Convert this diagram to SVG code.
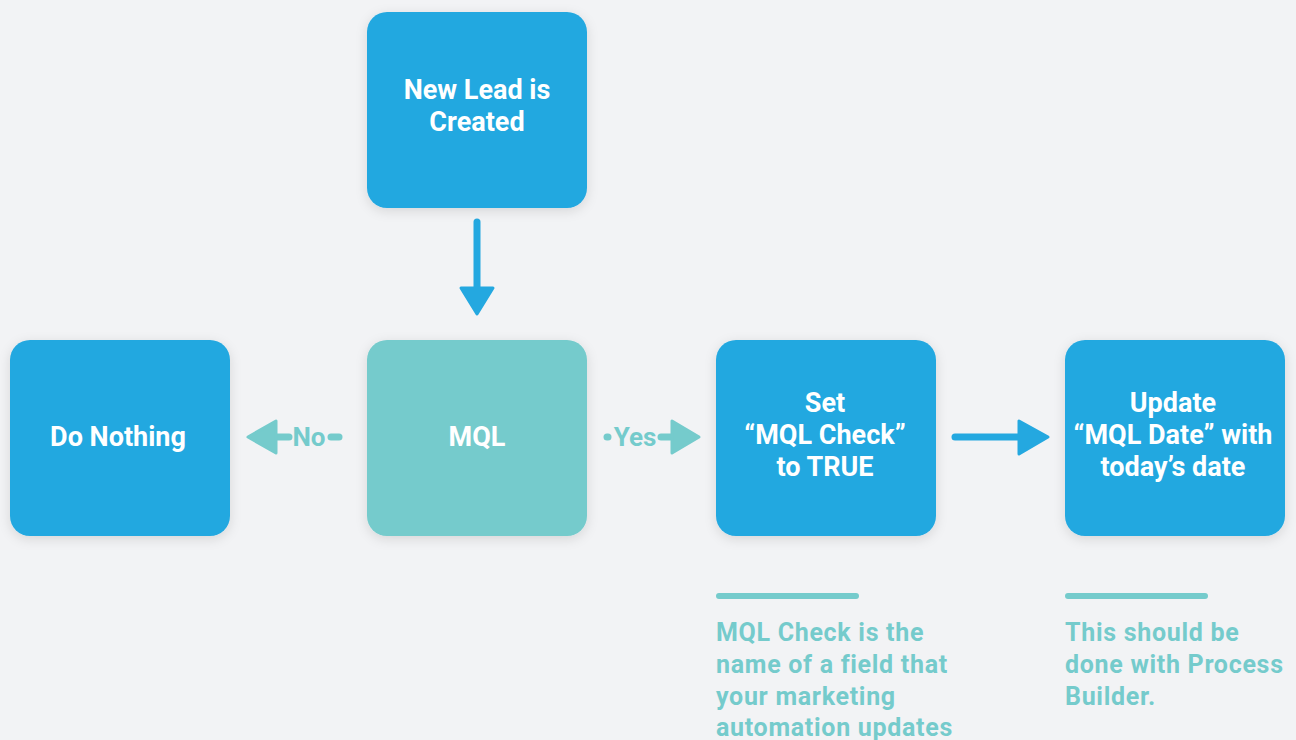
<svg xmlns="http://www.w3.org/2000/svg" width="1296" height="740" viewBox="0 0 1296 740">
<defs>
<filter id="sh" x="-20%" y="-20%" width="140%" height="140%">
<feDropShadow dx="0" dy="3" stdDeviation="6" flood-color="#000" flood-opacity="0.12"/>
</filter>
<style>
.blue{fill:#24A8E0}
.teal{fill:#75CBCC}
.bt{font-family:Roboto,"Liberation Sans",sans-serif;font-weight:bold;font-size:27px;fill:#fff;text-anchor:middle}
.note{font-family:Roboto,"Liberation Sans",sans-serif;font-weight:bold;font-size:25px;letter-spacing:0.7px;fill:#75CBCC}
.lbl{font-family:Roboto,"Liberation Sans",sans-serif;font-weight:bold;font-size:26px;fill:#75CBCC;text-anchor:middle}
.bl{stroke:#24A8E0;stroke-width:7;stroke-linecap:round;fill:none}
.tl{stroke:#75CBCC;stroke-width:7;stroke-linecap:round;fill:none}
.sep{stroke:#75CBCC;stroke-width:6;stroke-linecap:round}
</style>
</defs>
<rect width="1296" height="740" fill="#F2F3F5"/>
<g id="connectors">
<line class="bl" x1="477" y1="222" x2="477" y2="290"/>
<path class="blue" d="M461,288 L493,288 L477,314 Z" stroke="#24A8E0" stroke-width="3" stroke-linejoin="round"/>
<line class="tl" x1="276" y1="437" x2="289" y2="437"/>
<path class="teal" d="M276,421 L276,453 L248,437 Z" stroke="#75CBCC" stroke-width="3" stroke-linejoin="round"/>
<text class="lbl" x="309" y="446">No</text>
<line class="tl" x1="331" y1="437" x2="339" y2="437"/>
<line class="tl" x1="607" y1="437" x2="608" y2="437"/>
<text class="lbl" x="635" y="446">Yes</text>
<line class="tl" x1="661" y1="437" x2="673" y2="437"/>
<path class="teal" d="M672,421 L672,453 L699,437 Z" stroke="#75CBCC" stroke-width="3" stroke-linejoin="round"/>
<line class="bl" x1="955" y1="437" x2="1020" y2="437"/>
<path class="blue" d="M1019,421 L1019,454 L1048,437 Z" stroke="#24A8E0" stroke-width="3" stroke-linejoin="round"/>
</g>
<g id="new-lead">
<rect class="blue" x="367" y="12" width="220" height="196" rx="20" filter="url(#sh)"/>
<text class="bt" x="477" y="99">New Lead is</text>
<text class="bt" x="477" y="131">Created</text>
</g>
<g id="mql">
<rect class="teal" x="367" y="340" width="220" height="196" rx="20" filter="url(#sh)"/>
<text class="bt" x="477" y="446">MQL</text>
</g>
<g id="do-nothing">
<rect class="blue" x="10" y="340" width="220" height="196" rx="20" filter="url(#sh)"/>
<text class="bt" x="118" y="446">Do Nothing</text>
</g>
<g id="set-check">
<rect class="blue" x="716" y="340" width="220" height="196" rx="20" filter="url(#sh)"/>
<text class="bt" x="825" y="412">Set</text>
<text class="bt" x="825" y="444">“MQL Check”</text>
<text class="bt" x="825" y="476">to TRUE</text>
</g>
<g id="update-date">
<rect class="blue" x="1065" y="340" width="220" height="196" rx="20" filter="url(#sh)"/>
<text class="bt" x="1173" y="412">Update</text>
<text class="bt" x="1173" y="444">“MQL Date” with</text>
<text class="bt" x="1173" y="476">today’s date</text>
</g>
<g id="note-mql-check">
<line class="sep" x1="719" y1="596" x2="856" y2="596"/>
<text class="note" x="716" y="641">MQL Check is the</text>
<text class="note" x="716" y="673">name of a field that</text>
<text class="note" x="716" y="705">your marketing</text>
<text class="note" x="716" y="736">automation updates</text>
</g>
<g id="note-process-builder">
<line class="sep" x1="1068" y1="596" x2="1205" y2="596"/>
<text class="note" x="1065" y="641">This should be</text>
<text class="note" x="1065" y="673">done with Process</text>
<text class="note" x="1065" y="705">Builder.</text>
</g>
</svg>
